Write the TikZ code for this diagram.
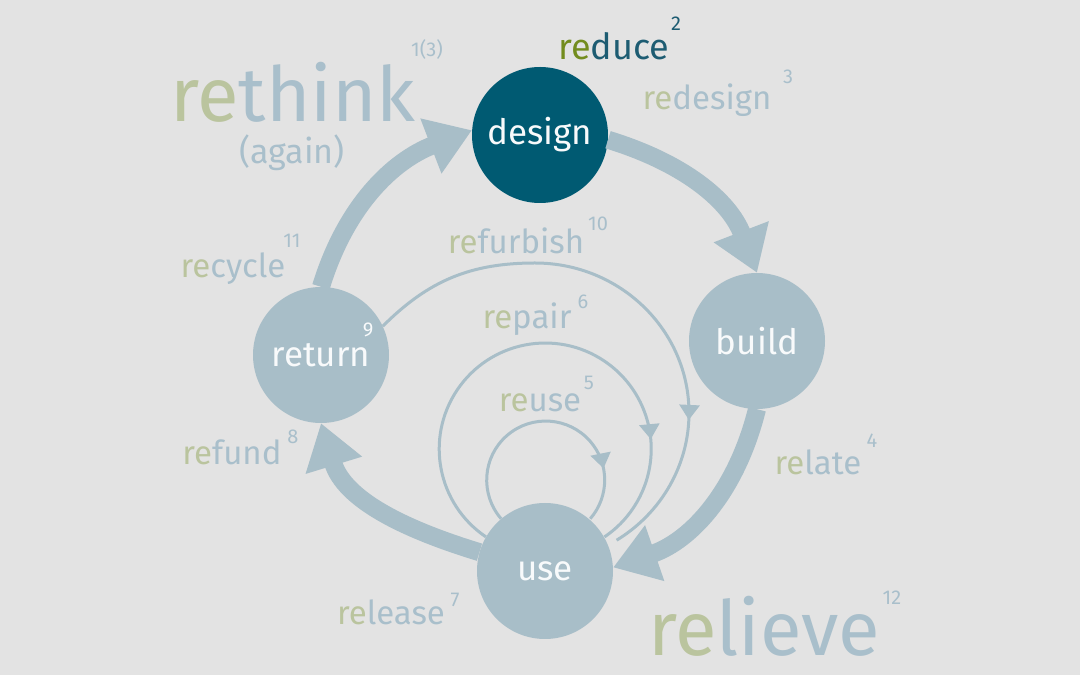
\documentclass[tikz,border=0pt]{standalone}
\usepackage{fontspec}
\setmainfont{Fira Sans}
\usepackage{xcolor}
\usetikzlibrary{calc, positioning, arrows.meta, decorations.markings}

\definecolor{bgray}{HTML}{E3E3E3}
\definecolor{cyclegray}{HTML}{A8BEC8}
\definecolor{designteal}{HTML}{005A72}
\definecolor{darkteal}{HTML}{1D5C72}
\definecolor{regreen}{HTML}{BAC49E}
\definecolor{reolive}{HTML}{738C1E}
\definecolor{wordblue}{HTML}{A9BFCB}

\newcommand{\greenre}{\textcolor{regreen}{re}}

\begin{document}
\begin{tikzpicture}[x=1pt, y=1pt,
    stage/.style={circle, fill=cyclegray, minimum size=136pt, inner sep=0pt,
        text=white!92!cyclegray, font=\fontsize{35}{35}\selectfont},
    word/.style={text=wordblue, font=\fontsize{#1}{#1}\selectfont, anchor=base, inner sep=0pt},
    word/.default=33,
    upnum/.style={text=wordblue, font=\fontsize{20}{20}\selectfont, inner sep=0pt},
    bigarrow/.style={draw=cyclegray, line width=18pt, -{Triangle[width=56pt, length=44pt]}},
    thinarrow/.style={draw=cyclegray, line width=3pt},
    midtip/.style={postaction=decorate, decoration={markings,
        mark=at position #1 with {\arrow{Triangle[width=20pt, length=15pt]}}}}]

    % Nền và khung hình
    \fill[bgray] (0,0) rectangle (1080,675);
    \useasboundingbox (0,0) rectangle (1080,675);

    % Bốn giai đoạn của vòng đời
    \node[stage, fill=designteal] (design) at (540,540) {design};
    \node[stage] (build) at (757,334) {build};
    \node[stage] (use) at (545,104) {use};
    \node[stage] (return) at (321,320) {return};

    % Các vòng nhỏ quay về "use"
    \coordinate (furbtop) at (535,412);
    \draw[thinarrow, midtip=0.8] (use.130) arc[start angle=221, end angle=-41, radius=59];
    \draw[thinarrow, midtip=0.79] (use.150) arc[start angle=236, end angle=-56, radius=106];
    \draw[thinarrow, midtip=0.74] (return.25) to[out=45, in=180] (furbtop)
        arc[start angle=90, end angle=-58, x radius=154, y radius=150];

    % Vòng lớn
    \draw[bigarrow] (return.north) to[out=73, in=201] (design.176);
    \draw[bigarrow] (design.-4) to[out=-17, in=111] (build.north);
    \draw[bigarrow] (build.south) to[out=-104, in=19] (use.3);
    \draw[bigarrow] (use.164) to[out=163, in=-73] (return.south);

    % Nhãn
    \node[word=76, text depth=0pt] (rethink) at (293,553) {\greenre think};
    \node[word=34] (again) at (292,511) {(again)};
    \node[upnum] (n13) at (427,625) {1(3)};
    \node[word=36, text=darkteal] (reduce) at (614,615) {\textcolor{reolive}{re}duce};
    \node[upnum, text=darkteal] (n2) at (676,651) {2};
    \node[word] (redesign) at (707,565) {\greenre design};
    \node[upnum] (n3) at (788,598) {3};
    \node[word] (refurbish) at (516,421) {\greenre furbish};
    \node[upnum] (n10) at (598,451) {10};
    \node[word] (recycle) at (233,397) {\greenre cycle};
    \node[upnum] (n11) at (292,434) {11};
    \node[word] (repair) at (527,346) {\greenre pair};
    \node[upnum] (n6) at (583,373) {6};
    \node[word] (reuse) at (540,263) {\greenre use};
    \node[upnum] (n5) at (589,292) {5};
    \node[upnum, text=white!92!cyclegray] (n9) at (368,345) {9};
    \node[word] (refund) at (232,210) {\greenre fund};
    \node[upnum] (n8) at (293,238) {8};
    \node[word] (relate) at (818,200) {\greenre late};
    \node[upnum] (n4) at (872,234) {4};
    \node[word] (release) at (391,50) {\greenre lease};
    \node[upnum] (n7) at (455,75) {7};
    \node[word=76] (relieve) at (764,19) {\greenre lieve};
    \node[upnum] (n12) at (892,77) {12};
\end{tikzpicture}
\end{document}
